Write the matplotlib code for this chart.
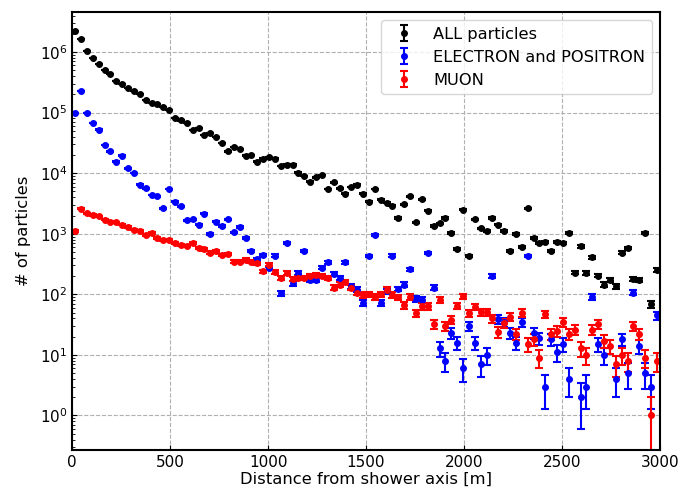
import numpy as np
import matplotlib
matplotlib.use('Agg')
import matplotlib.pyplot as plt

# bin centres [m]
r = 15 + 30 * np.arange(100)

# number of particles per bin
n_all = [2240000, 1620000, 1050000, 794000, 631000, 501000, 437000, 331000, 295000, 257000,
         229000, 204000, 162000, 145000, 138000, 123000, 110000, 81300, 74100, 67600,
         51300, 55000, 42700, 45700, 39800, 31600, 22900, 26900, 25100, 19500,
         20000, 15500, 17400, 18200, 17400, 13200, 13800, 13800, 10200, 8910,
         7240, 8510, 9330, 5500, 7080, 5620, 4570, 5890, 6460, 4570,
         3390, 5500, 3630, 3240, 2880, 1820, 3090, 4170, 1550, 3720,
         2400, 1350, 1480, 1820, 1020, 562, 2510, 427, 1740, 1230,
         1100, 1820, 1410, 1120, 513, 1000, 603, 2630, 851, 692,
         724, 525, 724, 708, 1020, 229, 617, 224, 407, 204,
         145, 170, 135, 490, 575, 178, 170, 1020, 68, 251]

n_em = [100000, 224000, 97700, 67600, 52500, 29500, 22900, 15500, 19500, 12000,
        10000, 6460, 5620, 4370, 4170, 2630, 5500, 3390, 2820, 1660,
        1740, 1410, 2140, 1000, 1580, 1350, 1740, 1050, 1290, 851,
        513, 380, 447, 269, 437, 105, 708, 151, 224, 525,
        170, 170, 275, 339, 219, 186, 339, 135, 120, 72,
        427, 955, 72, 112, 437, 123, 145, 257, 83, 81,
        479, 129, 13, 8, 23, 16, 6, 30, 16, 7,
        10, 200, 39, 35, 23, 16, 35, 427, 23, 19,
        3, 18, 11, 15, 4, np.nan, 2, 3, 91, 15,
        10, np.nan, 4, 18, 5, 107, 14, 5, 3, 45]

n_mu = [1100, 2570, 2190, 2040, 1950, 1700, 1580, 1550, 1410, 1290,
        1170, 1120, 955, 1020, 851, 776, 794, 708, 661, 631,
        692, 575, 550, 490, 513, 447, 468, 347, 347, 372,
        347, 324, 240, 309, 234, 186, 224, 178, 186, 186,
        200, 209, 200, 186, 129, 145, 162, 129, 107, 98,
        100, 91, 100, 120, 98, 89, 66, 91, 49, 63,
        63, 32, 81, 30, 38, 65, 93, 49, 62, 51,
        51, 40, 24, 33, 43, 22, 50, 15, 18, 9,
        47, 22, 25, 35, 22, 26, 13, 10, 26, 32,
        17, 14, 7, 10, 8, 30, 22, 9, 1, 8]

series = [(n_all, 'black', 'ALL particles'),
          (n_em, 'blue', 'ELECTRON and POSITRON'),
          (n_mu, 'red', 'MUON')]

fig, ax = plt.subplots(figsize=(6.81, 4.96), dpi=100)
fig.subplots_adjust(left=0.106, right=0.969, bottom=0.093, top=0.976)
ax.set_yscale('log')

for n, c, lab in series:
    n = np.asarray(n, dtype=float)
    ax.errorbar(r, n, yerr=np.sqrt(n), fmt='o', color=c, ms=4,
                capsize=3, elinewidth=1.5, capthick=1.5, label=lab)

ax.set_xlim(0, 3000)
ax.set_ylim(0.27, 4.6e6)
ax.set_xlabel('Distance from shower axis [m]', fontsize=11.8, labelpad=1.5)
ax.set_ylabel('# of particles', fontsize=11.8, labelpad=6)
ax.tick_params(which='both', direction='in', labelsize=11)
ax.grid(True, which='major', ls='--', color='#b0b0b0')
for s in ax.spines.values():
    s.set_linewidth(1.5)
ax.legend(loc='upper right', fontsize=11.7)

fig.savefig('out.png', dpi=100)
